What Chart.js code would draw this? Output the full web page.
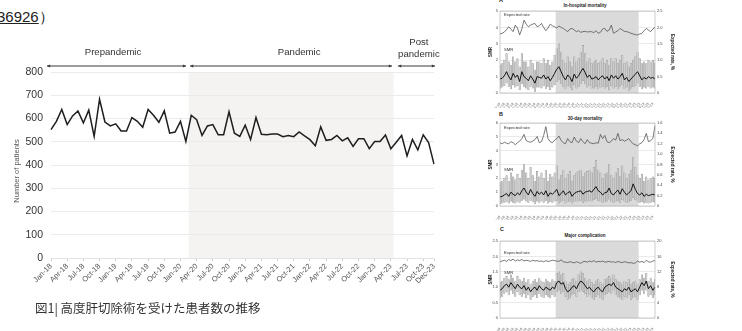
<!DOCTYPE html>
<html>
<head>
<meta charset="utf-8">
<script src="https://cdn.jsdelivr.net/npm/chart.js@4.4.0/dist/chart.umd.min.js"></script>
<style>
html,body{margin:0;padding:0;background:#fff;}
body{width:742px;height:331px;overflow:hidden;position:relative;font-family:"Liberation Sans",Arial,sans-serif;}
canvas{position:absolute;}
#ref{position:absolute;left:-3px;top:9px;font-size:15px;line-height:15px;color:#222;white-space:nowrap;}
#cap{position:absolute;left:35px;top:301px;font-family:"Noto Sans CJK JP",sans-serif;font-size:12.5px;line-height:14px;color:#333;white-space:nowrap;}
.pl{position:absolute;font-size:5.5px;font-weight:bold;color:#222;line-height:6px;}
.pt{position:absolute;font-size:4.5px;font-weight:bold;color:#222;line-height:5px;transform:translateX(-50%);white-space:nowrap;}
</style>
</head>
<body>
<div id="ref"><u>36926</u>）</div>
<canvas id="main" width="470" height="300" style="left:0;top:0;width:470px;height:300px"></canvas>
<div id="cap">図1| 高度肝切除術を受けた患者数の推移</div>

<div class="pl" style="left:499px;top:-3px">A</div>
<div class="pt" style="left:585px;top:3px">In-hospital mortality</div>
<canvas id="pA" width="200" height="108" style="left:482px;top:0;width:200px;height:108px"></canvas>

<div class="pl" style="left:499px;top:111px">B</div>
<div class="pt" style="left:585px;top:116px">30-day mortality</div>
<canvas id="pB" width="200" height="108" style="left:482px;top:112px;width:200px;height:108px"></canvas>

<div class="pl" style="left:500px;top:226px">C</div>
<div class="pt" style="left:585px;top:233px">Major complication</div>
<canvas id="pC" width="200" height="102" style="left:482px;top:229px;width:200px;height:102px"></canvas>

<script>
// Monthly categories, Jan 2018 – Dec 2023
const months = [
  'Jan-18','Feb-18','Mar-18','Apr-18','May-18','Jun-18','Jul-18','Aug-18','Sep-18','Oct-18','Nov-18','Dec-18',
  'Jan-19','Feb-19','Mar-19','Apr-19','May-19','Jun-19','Jul-19','Aug-19','Sep-19','Oct-19','Nov-19','Dec-19',
  'Jan-20','Feb-20','Mar-20','Apr-20','May-20','Jun-20','Jul-20','Aug-20','Sep-20','Oct-20','Nov-20','Dec-20',
  'Jan-21','Feb-21','Mar-21','Apr-21','May-21','Jun-21','Jul-21','Aug-21','Sep-21','Oct-21','Nov-21','Dec-21',
  'Jan-22','Feb-22','Mar-22','Apr-22','May-22','Jun-22','Jul-22','Aug-22','Sep-22','Oct-22','Nov-22','Dec-22',
  'Jan-23','Feb-23','Mar-23','Apr-23','May-23','Jun-23','Jul-23','Aug-23','Sep-23','Oct-23','Nov-23','Dec-23'
];

// Axis labels shown under the main chart
const tickLabels = [
  'Jan-18','Apr-18','Jul-18','Oct-18','Jan-19','Apr-19','Jul-19','Oct-19',
  'Jan-20','Apr-20','Jul-20','Oct-20','Jan-21','Apr-21','Jul-21','Oct-21',
  'Jan-22','Apr-22','Jul-22','Oct-22','Jan-23','Apr-23','Jul-23','Oct-23','Dec-23'
];

// Number of patients undergoing major hepatectomy per month
const patients = [
  552,588,639,574,611,632,581,636,523,683,585,568,
  577,546,546,604,588,562,639,614,584,633,537,542,
  588,501,614,595,527,568,574,530,530,629,537,523,
  571,510,604,532,530,533,533,522,527,522,542,525,
  509,483,564,506,510,527,504,517,480,513,513,470,
  501,501,529,470,498,527,439,510,465,530,496,404
];

// Period names and the pandemic window (in month-index units)
const phaseNames = ['Prepandemic','Pandemic','Post\npandemic'];
const pandemicBand = [25.5, 63.5];

// Panel A: in-hospital mortality
const aExpected = [
  1.80,1.82,1.86,1.93,2.02,1.95,1.87,2.07,1.98,1.77,1.95,2.22,
  2.10,2.02,2.07,2.10,2.12,2.02,2.05,2.12,2.00,1.90,1.98,2.10,
  2.05,2.02,1.98,2.04,2.00,1.97,1.92,1.87,1.95,1.97,1.92,1.87,
  1.90,1.85,1.87,1.88,1.86,1.87,1.87,1.84,1.90,1.82,1.85,1.95,
  1.97,1.88,1.92,2.07,1.82,1.86,1.90,1.97,1.92,1.88,1.87,1.85,
  1.82,1.80,1.78,1.77,1.80,1.82,1.90,1.97,1.92,1.87,1.95,2.00
];
const aSmr = [
  0.85,0.90,1.05,1.30,1.00,0.80,1.20,0.95,1.10,0.70,1.30,1.00,
  0.90,0.75,1.05,0.85,0.60,1.00,0.95,0.90,1.10,0.85,1.00,0.75,
  0.95,1.20,1.45,1.60,1.30,1.00,0.80,1.10,0.95,0.70,1.15,0.90,
  1.05,1.30,1.50,1.25,0.95,1.10,0.85,0.90,1.00,0.80,0.95,1.05,
  0.85,1.00,0.75,1.10,0.90,1.05,0.85,1.00,1.20,0.80,0.95,0.70,
  0.85,1.00,1.15,1.30,1.05,0.80,0.95,0.85,1.00,0.90,0.95,0.85
];
const aLow = [
  0.30,0.35,0.45,0.60,0.40,0.25,0.50,0.35,0.45,0.20,0.55,0.40,
  0.30,0.20,0.40,0.30,0.10,0.35,0.35,0.30,0.45,0.25,0.40,0.20,
  0.35,0.50,0.70,0.80,0.55,0.40,0.25,0.45,0.35,0.20,0.50,0.30,
  0.40,0.55,0.75,0.55,0.35,0.45,0.30,0.30,0.40,0.25,0.35,0.40,
  0.30,0.40,0.20,0.45,0.30,0.40,0.25,0.40,0.50,0.25,0.35,0.15,
  0.30,0.40,0.45,0.60,0.40,0.25,0.35,0.30,0.40,0.30,0.35,0.30
];
const aHigh = [
  1.70,1.80,2.00,2.40,1.90,1.70,2.20,1.90,2.10,1.60,2.40,1.90,
  1.90,1.60,2.00,1.80,1.40,1.90,1.90,1.80,2.10,1.80,2.00,1.70,
  1.90,2.30,2.70,3.00,2.50,2.00,1.80,2.20,1.90,1.60,2.20,1.90,
  2.10,2.50,2.90,2.40,1.90,2.10,1.80,1.90,2.00,1.80,1.90,2.10,
  1.80,2.00,1.70,2.10,1.90,2.10,1.80,2.00,2.30,1.80,1.90,1.60,
  1.80,2.00,2.20,2.50,2.10,1.80,1.90,1.80,2.00,1.90,2.00,1.80
];

// Panel B: 30-day mortality
const bExpected = [
  1.22,1.20,1.23,1.21,1.20,1.24,1.22,1.18,1.22,1.25,1.30,1.38,
  1.26,1.24,1.23,1.25,1.28,1.34,1.22,1.24,1.36,1.53,1.30,1.24,
  1.22,1.27,1.30,1.35,1.26,1.22,1.20,1.30,1.24,1.22,1.33,1.25,
  1.22,1.30,1.24,1.20,1.28,1.22,1.21,1.20,1.22,1.21,1.38,1.30,
  1.36,1.24,1.22,1.25,1.30,1.27,1.40,1.26,1.28,1.25,1.27,1.30,
  1.24,1.20,1.18,1.16,1.20,1.22,1.28,1.40,1.24,1.26,1.30,1.55
];
const bSmr = [
  0.65,0.70,0.80,0.90,0.70,1.00,0.85,0.75,0.95,0.80,1.10,1.30,
  1.00,0.80,1.20,0.90,0.70,1.05,0.85,1.00,0.80,1.10,0.70,0.95,
  0.85,1.00,1.20,0.75,0.90,1.10,0.80,0.95,1.05,0.70,0.90,1.00,
  1.05,1.10,0.85,1.00,1.05,1.10,1.00,1.20,1.40,1.10,1.00,0.80,
  0.95,1.00,1.30,0.90,0.80,1.00,1.15,0.85,1.25,1.00,0.80,0.95,
  1.10,1.60,1.20,0.90,0.80,0.95,0.70,0.85,0.75,0.80,0.85,0.80
];
const bLow = [
  0.15,0.20,0.25,0.30,0.20,0.35,0.25,0.20,0.30,0.25,0.40,0.50,
  0.35,0.25,0.40,0.30,0.15,0.35,0.25,0.35,0.25,0.40,0.20,0.30,
  0.25,0.35,0.40,0.20,0.30,0.40,0.20,0.30,0.35,0.20,0.30,0.35,
  0.35,0.40,0.25,0.35,0.35,0.40,0.35,0.45,0.55,0.40,0.35,0.25,
  0.30,0.35,0.50,0.30,0.25,0.35,0.40,0.25,0.45,0.35,0.25,0.30,
  0.40,0.60,0.45,0.30,0.25,0.30,0.20,0.25,0.20,0.25,0.30,0.25
];
const bHigh = [
  1.70,1.80,2.00,2.20,1.80,2.40,2.10,1.90,2.30,2.00,2.60,3.00,
  2.40,2.00,2.80,2.20,1.80,2.50,2.10,2.40,2.00,2.60,1.80,2.30,
  2.10,2.40,2.90,1.90,2.20,2.60,2.00,2.30,2.50,1.80,2.20,2.40,
  2.50,2.60,2.10,2.40,2.50,2.60,2.40,2.80,3.30,2.60,2.40,2.00,
  2.30,2.40,3.00,2.20,2.00,2.40,2.70,2.10,2.90,2.40,2.00,2.30,
  2.60,3.50,2.80,2.20,2.00,2.30,1.80,2.10,1.90,2.00,2.10,2.00
];

// Panel C: major complication
const cExpected = [
  14.6,14.8,15.0,14.7,15.2,14.9,15.3,14.8,15.1,14.9,15.2,14.8,
  15.0,14.9,14.7,15.0,14.8,14.9,14.7,14.8,14.6,14.9,14.7,14.8,
  15.0,14.9,14.8,14.7,15.1,14.6,14.5,14.4,14.6,14.5,14.3,14.6,
  14.4,14.2,14.6,14.7,14.5,14.8,14.6,14.9,14.5,14.7,14.6,14.8,
  14.5,14.6,14.7,14.5,14.6,14.4,14.7,14.5,14.4,14.6,14.5,14.3,
  14.4,14.2,14.3,14.8,14.5,14.7,14.4,15.0,14.6,14.5,14.8,14.9
];
const cSmr = [
  0.90,0.95,1.05,1.10,1.00,1.15,1.05,0.95,1.10,1.00,0.95,1.05,
  0.90,1.00,0.85,0.95,1.00,0.90,1.05,0.95,0.90,1.00,0.95,0.90,
  1.00,0.95,1.15,1.20,1.10,1.15,0.95,0.85,0.90,1.00,1.05,0.95,
  1.10,1.20,1.15,1.05,0.95,1.00,0.90,0.85,0.95,1.00,0.90,0.85,
  1.00,1.05,1.10,1.05,1.15,1.00,0.95,0.90,0.85,0.95,0.90,1.00,
  0.85,0.90,0.95,0.85,1.00,1.15,1.05,1.20,0.95,1.05,0.90,1.00
];
const cLow = [
  0.65,0.70,0.80,0.85,0.75,0.90,0.80,0.70,0.85,0.75,0.70,0.80,
  0.65,0.75,0.60,0.70,0.75,0.65,0.80,0.70,0.65,0.75,0.70,0.65,
  0.75,0.70,0.85,0.90,0.80,0.85,0.70,0.60,0.65,0.75,0.80,0.70,
  0.85,0.90,0.85,0.80,0.70,0.75,0.65,0.60,0.70,0.75,0.65,0.60,
  0.75,0.80,0.85,0.80,0.90,0.75,0.70,0.65,0.60,0.70,0.65,0.75,
  0.60,0.65,0.70,0.60,0.75,0.90,0.80,0.90,0.70,0.75,0.65,0.75
];
const cHigh = [
  1.15,1.20,1.30,1.35,1.25,1.40,1.30,1.20,1.35,1.25,1.20,1.30,
  1.15,1.25,1.10,1.20,1.25,1.15,1.30,1.20,1.15,1.25,1.20,1.15,
  1.25,1.20,1.45,1.50,1.40,1.45,1.20,1.10,1.15,1.25,1.30,1.20,
  1.40,1.50,1.45,1.30,1.20,1.25,1.15,1.10,1.20,1.25,1.15,1.10,
  1.25,1.30,1.35,1.30,1.40,1.25,1.20,1.15,1.10,1.20,1.15,1.25,
  1.10,1.15,1.20,1.10,1.25,1.40,1.30,1.45,1.20,1.30,1.15,1.25
];

Chart.defaults.font.family = '"Liberation Sans", Arial, Helvetica, sans-serif';
Chart.defaults.animation = false;

// Grey background band marking the pandemic period
const bandPlugin = {
  id: 'band',
  beforeDraw(chart, args, o) {
    const {ctx, chartArea: a, scales: {x}} = chart;
    const x0 = x.getPixelForValue(pandemicBand[0]);
    const x1 = x.getPixelForValue(pandemicBand[1]);
    ctx.save();
    ctx.fillStyle = o.color;
    ctx.fillRect(x0, a.top, x1 - x0, a.bottom - a.top);
    ctx.restore();
  }
};

function arrowHead(ctx, x, y, dir) {
  ctx.beginPath();
  ctx.moveTo(x, y);
  ctx.lineTo(x - dir * 3.2, y - 1.6);
  ctx.lineTo(x - dir * 3.2, y + 1.6);
  ctx.closePath();
  ctx.fill();
}

// Period arrows and names above the main plot, plus the y-axis title
const phasePlugin = {
  id: 'phases',
  afterDraw(chart, args, o) {
    const {ctx, chartArea: a, scales: {x}} = chart;
    const b0 = x.getPixelForValue(pandemicBand[0]);
    const b1 = x.getPixelForValue(pandemicBand[1]);
    const spans = [[a.left - 4, b0 - 2.5], [b0 + 1.5, b1 - 1.5], [b1 + 4.5, a.right + 1]];
    ctx.save();
    ctx.strokeStyle = '#3a3a3a';
    ctx.fillStyle = '#3a3a3a';
    ctx.lineWidth = 1;
    spans.forEach(([s, e]) => {
      ctx.beginPath();
      ctx.moveTo(s, o.arrowY);
      ctx.lineTo(e, o.arrowY);
      ctx.stroke();
      arrowHead(ctx, s, o.arrowY, -1);
      arrowHead(ctx, e, o.arrowY, 1);
    });
    ctx.font = '9.6px "Liberation Sans", Arial, sans-serif';
    ctx.textAlign = 'center';
    ctx.textBaseline = 'middle';
    ctx.fillStyle = '#333';
    phaseNames.forEach((name, i) => {
      const lines = name.split('\n');
      const cx = x.getPixelForValue(o.labelAt[i]);
      if (lines.length === 1) {
        ctx.fillText(lines[0], cx, o.labelY);
      } else {
        ctx.fillText(lines[0], cx, o.labelY - 9.5);
        ctx.fillText(lines[1], cx, o.labelY + 2);
      }
    });
    // y-axis title
    ctx.translate(17, (a.top + a.bottom) / 2 + 6);
    ctx.rotate(-Math.PI / 2);
    ctx.font = '7.5px "Liberation Sans", Arial, sans-serif';
    ctx.fillStyle = '#555';
    ctx.fillText('Number of patients', 0, 0);
    ctx.restore();
  }
};

new Chart(document.getElementById('main'), {
  type: 'line',
  data: {
    labels: months,
    datasets: [{
      data: patients,
      borderColor: '#1e1e1e',
      borderWidth: 1.5,
      pointRadius: 0,
      tension: 0,
      fill: false
    }]
  },
  options: {
    responsive: false,
    devicePixelRatio: 1,
    layout: {padding: {top: 72, right: 36, left: 0, bottom: 0}},
    plugins: {
      legend: {display: false},
      tooltip: {enabled: false},
      band: {color: '#f4f3f1'},
      phases: {arrowY: 66, labelY: 52, labelAt: [11.5, 46, 68.2]}
    },
    scales: {
      x: {
        type: 'category',
        offset: false,
        grid: {
          display: true,
          drawOnChartArea: false,
          drawTicks: true,
          tickLength: 3,
          offset: false,
          color: c => tickLabels.includes(months[c.index]) ? '#cfcfcf' : 'rgba(0,0,0,0)'
        },
        border: {display: true, color: '#e3e3e3'},
        ticks: {
          autoSkip: false,
          maxRotation: 45,
          minRotation: 45,
          padding: 1,
          color: '#555',
          font: {size: 7.5},
          callback: (v, i) => tickLabels.includes(months[i]) ? months[i] : ''
        },
        afterFit(s) { s.height = 42; }
      },
      y: {
        min: 0,
        max: 800,
        ticks: {stepSize: 100, padding: 8, color: '#333', font: {size: 10.5}},
        grid: {color: '#ebebeb', drawTicks: false},
        border: {display: false},
        afterFit(s) { s.width = 51; }
      }
    }
  },
  plugins: [bandPlugin, phasePlugin]
});

// Frame and in-plot notes for the small panels
const panelPlugin = {
  id: 'panel',
  afterDraw(chart, args, o) {
    const {ctx, chartArea: a} = chart;
    ctx.save();
    ctx.strokeStyle = '#a8a8a8';
    ctx.lineWidth = 0.6;
    ctx.strokeRect(a.left, a.top, a.right - a.left, a.bottom - a.top);
    ctx.font = '4.2px "Liberation Sans", Arial, sans-serif';
    ctx.fillStyle = '#333';
    ctx.textBaseline = 'middle';
    ctx.fillText('Expected rate', a.left + 4, a.top + o.expY);
    ctx.fillText('SMR', a.left + 4, a.top + o.smrY);
    ctx.restore();
  }
};

function drawPanel(id, spec, expected, smr, low, high) {
  new Chart(document.getElementById(id), {
    type: 'bar',
    data: {
      labels: months,
      datasets: [
        {type: 'line', data: expected, yAxisID: 'y2', borderColor: '#555', borderWidth: 0.8,
         pointRadius: 0, tension: 0, order: 0},
        {type: 'line', data: smr, yAxisID: 'y', borderColor: '#111', borderWidth: 1,
         pointRadius: 0, tension: 0, order: 1},
        {type: 'bar', data: low.map((v, i) => [v, high[i]]), yAxisID: 'y',
         backgroundColor: '#cdcdcd', borderColor: '#858585', borderWidth: 0.3,
         borderSkipped: false, barThickness: 1.5, order: 2}
      ]
    },
    options: {
      responsive: false,
      devicePixelRatio: 1,
      layout: {padding: {top: spec.padTop, right: 0, left: 0, bottom: 0}},
      plugins: {
        legend: {display: false},
        tooltip: {enabled: false},
        band: {color: '#dadada'},
        panel: {expY: spec.expY, smrY: spec.smrY}
      },
      scales: {
        x: {
          offset: false,
          grid: {display: false, offset: false},
          border: {display: false},
          ticks: {
            autoSkip: false, maxRotation: 45, minRotation: 45, padding: 1,
            color: '#666', font: {size: 3.5},
            callback: (v, i) => i % 2 === 0 ? months[i] : ''
          },
          afterFit(s) { s.height = spec.xh; }
        },
        y: {
          min: 0, max: spec.yMax,
          ticks: {stepSize: spec.yStep, padding: 2, color: '#444', font: {size: 4}},
          grid: {color: '#dcdcdc', lineWidth: 0.6, drawTicks: false},
          border: {display: false},
          title: {display: true, text: 'SMR', color: '#222',
                  font: {size: 4.5, weight: 'bold'}, padding: {top: 6, bottom: 0}},
          afterFit(s) { s.width = 18; }
        },
        y2: {
          position: 'right',
          min: 0, max: spec.y2Max,
          ticks: {stepSize: spec.y2Step, padding: 2, color: '#444', font: {size: 4}},
          grid: {drawOnChartArea: false, drawTicks: false},
          border: {display: false},
          title: {display: true, text: 'Expected rate, %', color: '#222',
                  font: {size: 4.5, weight: 'bold'}, padding: {top: 7, bottom: 0}},
          afterFit(s) { s.width = 27; }
        }
      }
    },
    plugins: [bandPlugin, panelPlugin]
  });
}

drawPanel('pA', {padTop: 11, xh: 15, yMax: 5, yStep: 1, y2Max: 2.5, y2Step: 0.5, expY: 4, smrY: 39},
  aExpected, aSmr, aLow, aHigh);
drawPanel('pB', {padTop: 11, xh: 14, yMax: 6, yStep: 1, y2Max: 1.6, y2Step: 0.2, expY: 5, smrY: 47},
  bExpected, bSmr, bLow, bHigh);
drawPanel('pC', {padTop: 12, xh: 13, yMax: 2.5, yStep: 0.5, y2Max: 20, y2Step: 4, expY: 12, smrY: 32},
  cExpected, cSmr, cLow, cHigh);
</script>
</body>
</html>
